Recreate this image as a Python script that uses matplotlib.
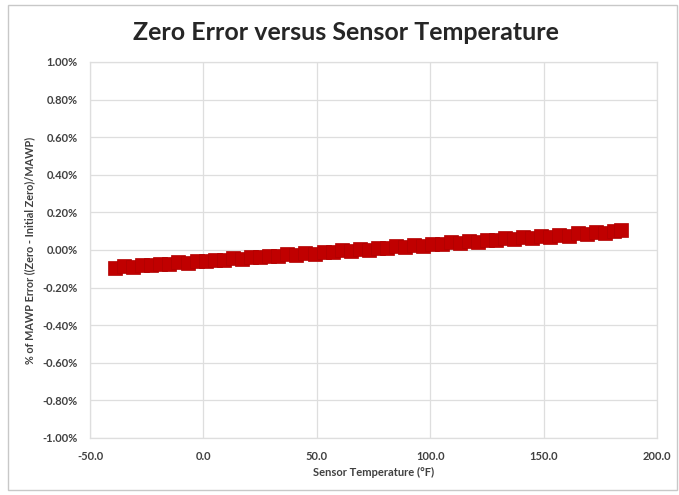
import matplotlib
matplotlib.use("Agg")
import matplotlib.pyplot as plt
from matplotlib.patches import Rectangle
from matplotlib.ticker import FuncFormatter, MultipleLocator

# Data (sensor temperature in °F, zero error in %)
temps = [-39, -35, -31, -27, -23, -19, -15, -11, -7, -3,
         1, 5, 9, 13, 17, 21, 25, 29, 33, 37,
         41, 45, 49, 53, 57, 61, 65, 69, 73, 77,
         81, 85, 89, 93, 97, 101, 105, 109, 113, 117,
         121, 125, 129, 133, 137, 141, 145, 149, 153, 157,
         161, 165, 169, 173, 177, 181, 184]
zero_err = [-0.095, -0.086, -0.088, -0.080, -0.081, -0.072, -0.074, -0.065, -0.067, -0.058,
            -0.060, -0.051, -0.053, -0.044, -0.046, -0.037, -0.039, -0.030, -0.034, -0.023,
            -0.025, -0.016, -0.021, -0.009, -0.012, -0.002, -0.006, 0.005, 0.002, 0.013,
            0.009, 0.020, 0.016, 0.027, 0.023, 0.034, 0.030, 0.041, 0.037, 0.048,
            0.044, 0.055, 0.051, 0.062, 0.058, 0.069, 0.064, 0.075, 0.071, 0.082,
            0.077, 0.090, 0.085, 0.097, 0.093, 0.103, 0.104]

title = "Zero Error versus Sensor Temperature"
xlabel = "Sensor Temperature (°F)"
ylabel = "% of MAWP Error ((Zero - Initial Zero)/MAWP)"

plt.rcParams['font.family'] = ['Lato', 'DejaVu Sans']

fig = plt.figure(figsize=(6.79, 4.95), dpi=100)
fig.patch.set_facecolor('white')
fig.add_artist(Rectangle((8/679, 5/495), 669/679, 485/495, transform=fig.transFigure,
                         fill=False, edgecolor='#c8c8c8', linewidth=1.0))

ax = fig.add_axes([90/679, 1 - 438/495, 567/679, 376/495])
ax.plot(temps, zero_err, linestyle='none', marker='s', markersize=9.5,
        markerfacecolor='#C00000', markeredgecolor='#b00000', markeredgewidth=0.5)

ax.set_xlim(-50, 200)
ax.set_ylim(-1.0, 1.0)
ax.xaxis.set_major_locator(MultipleLocator(50))
ax.yaxis.set_major_locator(MultipleLocator(0.2))
ax.xaxis.set_major_formatter(FuncFormatter(lambda v, p: f"{v:.1f}"))
ax.yaxis.set_major_formatter(FuncFormatter(lambda v, p: f"{v:.2f}%"))
ax.grid(True, color='#dedede', linewidth=0.9)
ax.set_axisbelow(True)
for s in ax.spines.values():
    s.set_color('#dedede')
    s.set_linewidth(0.9)
ax.tick_params(length=0, labelsize=8, labelcolor='#404040', pad=9)
for lab in ax.get_xticklabels() + ax.get_yticklabels():
    lab.set_fontweight('bold')

ax.set_xlabel(xlabel, fontsize=8, fontweight='bold', color='#404040', labelpad=4)
ax.set_ylabel(ylabel, fontsize=7.8, fontweight='bold', color='#404040', labelpad=5)

fig.text(0.5 * (128 + 563) / 679, 1 - 33 / 495, title, ha='center', va='center',
         fontsize=18, fontweight='bold', color='#262626')

fig.savefig("out.png", dpi=100, facecolor='white')
